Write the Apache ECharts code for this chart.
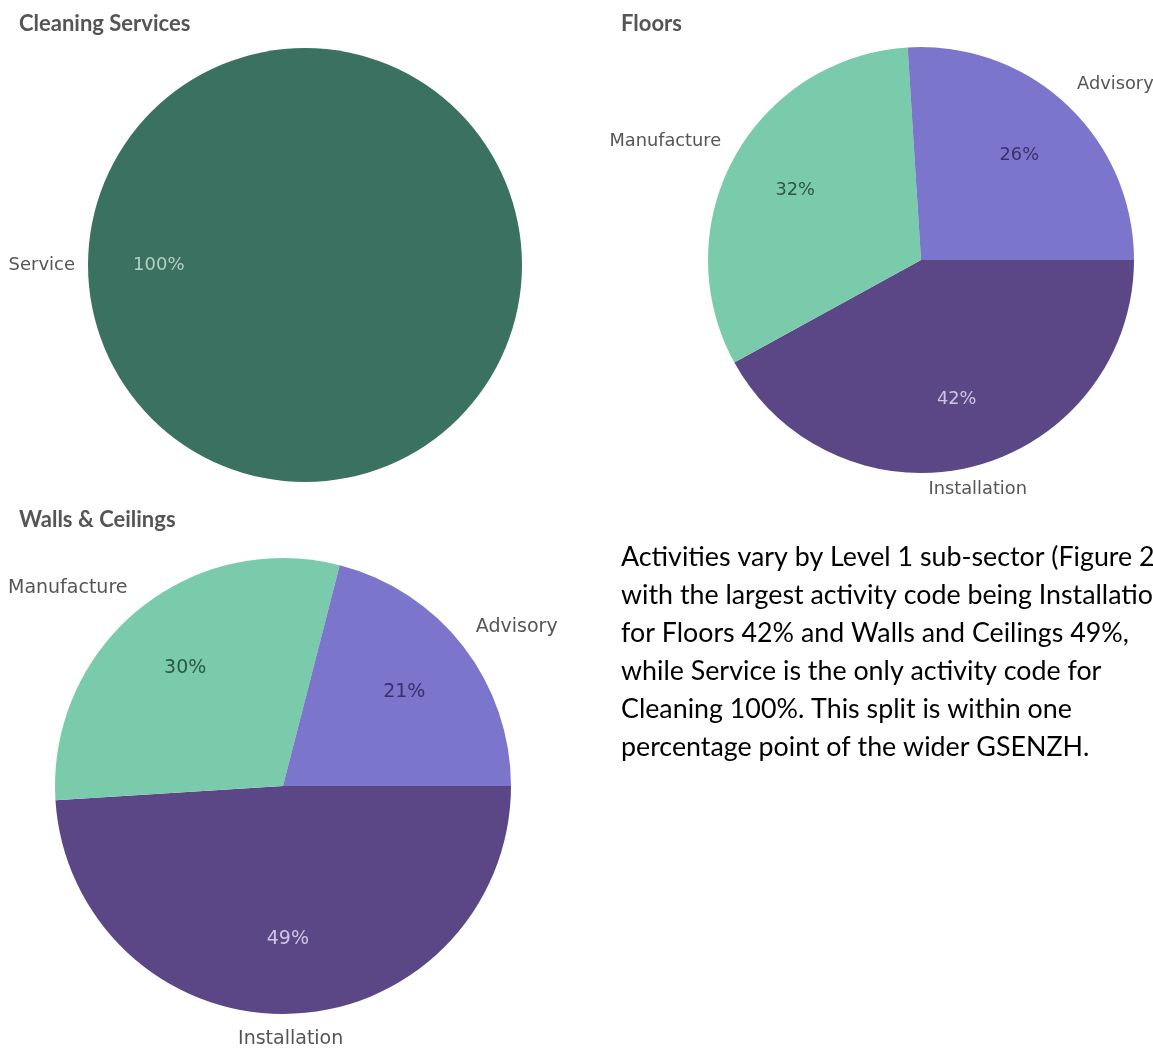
<!DOCTYPE html>
<html>
<head>
<meta charset="utf-8">
<script src="https://cdn.jsdelivr.net/npm/echarts@6/dist/echarts.min.js"></script>
<style>
  html, body { margin: 0; padding: 0; background: #ffffff; }
  #chart { width: 1153px; height: 1049px; }
</style>
</head>
<body>
<div id="chart"></div>
<script>
// Activity shares (%) by Level 1 sub-sector
const cleaningCategories = ['Service'];
const cleaningShares = [100];
const activityCategories = ['Installation', 'Manufacture', 'Advisory'];
const floorsShares = [42, 32, 26];
const wallsShares = [49, 30, 21];
const panelTitles = ['Cleaning Services', 'Floors', 'Walls & Ceilings'];
const summaryLines = [
  'Activities vary by Level 1 sub-sector (Figure 2',
  'with the largest activity code being Installation',
  'for Floors 42% and Walls and Ceilings 49%,',
  'while Service is the only activity code for',
  'Cleaning 100%. This split is within one',
  'percentage point of the wider GSENZH.'
];

const sliceColors = {
  Service: '#3b7160',
  Installation: '#5b4785',
  Manufacture: '#7acbab',
  Advisory: '#7b75cb'
};
const percentTextColors = {
  Service: '#b7cfc4',
  Installation: '#cdc5e6',
  Manufacture: '#2d5749',
  Advisory: '#37326c'
};

const labelFont = 'DejaVu Sans';
const START_ANGLE = 0; // first slice begins at 3 o'clock, runs clockwise

const panels = [
  { title: panelTitles[0], names: cleaningCategories, values: cleaningShares, center: [305, 265], r: 217, titleAt: [19, 24], fontSize: 18, gap: 13 },
  { title: panelTitles[1], names: activityCategories, values: floorsShares, center: [921, 260], r: 213, titleAt: [621, 24], fontSize: 17.8, gap: 15 },
  { title: panelTitles[2], names: activityCategories, values: wallsShares, center: [283, 786], r: 228, titleAt: [19, 520], fontSize: 19, gap: 16 }
];

// Category labels sit just outside the rim, anchored by the corner nearest the slice
function outerLabelLayout(panel) {
  const total = panel.values.reduce((a, b) => a + b, 0);
  const mids = [];
  let acc = 0;
  panel.values.forEach(v => {
    mids.push(((acc + v / 2) / total) * Math.PI * 2 - START_ANGLE * Math.PI / 180);
    acc += v;
  });
  return function (params) {
    const a = mids[params.dataIndex];
    const ux = Math.cos(a), uy = Math.sin(a);
    const d = panel.r + panel.gap;
    return {
      x: panel.center[0] + ux * d,
      y: panel.center[1] + uy * d,
      align: ux > 0.3 ? 'left' : (ux < -0.3 ? 'right' : 'center'),
      verticalAlign: uy > 0.3 ? 'top' : (uy < -0.3 ? 'bottom' : 'middle')
    };
  };
}

const series = [];
panels.forEach(panel => {
  series.push({
    type: 'pie',
    center: panel.center,
    radius: [0, panel.r],
    startAngle: START_ANGLE,
    clockwise: true,
    silent: true,
    avoidLabelOverlap: false,
    animation: false,
    itemStyle: { borderWidth: 0 },
    label: {
      show: true,
      position: 'outside',
      formatter: '{b}',
      color: '#555555',
      fontFamily: labelFont,
      fontSize: panel.fontSize
    },
    labelLine: { show: false },
    labelLayout: outerLabelLayout(panel),
    emphasis: { disabled: true },
    data: panel.names.map((n, i) => ({
      name: n,
      value: panel.values[i],
      itemStyle: { color: sliceColors[n] }
    }))
  });
  // transparent ring that carries the percentage labels further out toward the rim
  series.push({
    type: 'pie',
    center: panel.center,
    radius: [panel.r * 0.32, panel.r],
    startAngle: START_ANGLE,
    clockwise: true,
    silent: true,
    avoidLabelOverlap: false,
    animation: false,
    itemStyle: { color: 'rgba(0,0,0,0)', borderWidth: 0 },
    label: {
      show: true,
      position: 'inside',
      formatter: p => Math.round(p.percent) + '%',
      fontFamily: labelFont,
      fontSize: panel.fontSize
    },
    labelLine: { show: false },
    emphasis: { disabled: true },
    data: panel.names.map((n, i) => ({
      name: n,
      value: panel.values[i],
      itemStyle: { color: 'rgba(0,0,0,0)' },
      label: { color: percentTextColors[n] }
    }))
  });
});

const graphics = panels.map(panel => ({
  type: 'text',
  x: panel.titleAt[0],
  y: panel.titleAt[1],
  silent: true,
  style: {
    text: panel.title,
    font: 'bold 22px Lato',
    fill: '#555555',
    verticalAlign: 'middle'
  }
}));
graphics.push({
  type: 'text',
  x: 621,
  y: 538,
  silent: true,
  style: {
    text: summaryLines.join('\n'),
    font: '26.8px Lato',
    lineHeight: 38,
    fill: '#000000',
    verticalAlign: 'top'
  }
});

const chart = echarts.init(document.getElementById('chart'), null, { renderer: 'canvas' });
chart.setOption({
  animation: false,
  backgroundColor: '#ffffff',
  tooltip: { show: false },
  graphic: graphics,
  series: series
});
</script>
</body>
</html>
